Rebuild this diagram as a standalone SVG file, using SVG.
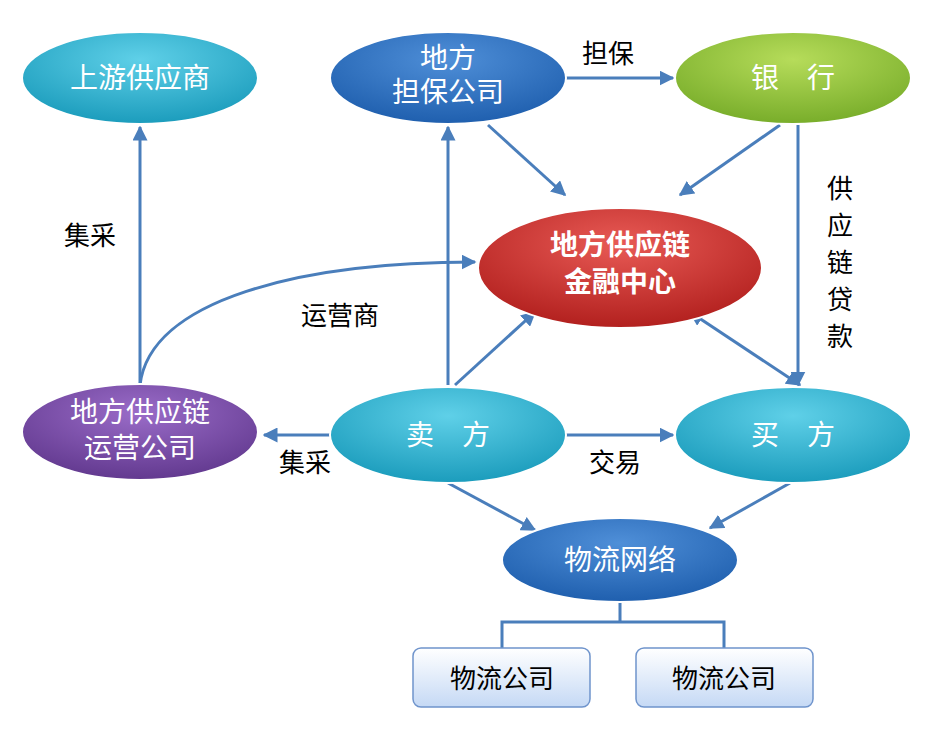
<svg xmlns="http://www.w3.org/2000/svg" width="941" height="735" viewBox="0 0 941 735">
<defs>
<radialGradient id="gT" cx="50%" cy="30%" r="70%"><stop offset="0" stop-color="#5fd0e8"/><stop offset="1" stop-color="#1b9cbc"/></radialGradient>
<radialGradient id="gB" cx="50%" cy="30%" r="70%"><stop offset="0" stop-color="#4f8fd8"/><stop offset="1" stop-color="#1f5fae"/></radialGradient>
<radialGradient id="gG" cx="50%" cy="30%" r="70%"><stop offset="0" stop-color="#b6dc5a"/><stop offset="1" stop-color="#78ad2a"/></radialGradient>
<radialGradient id="gR" cx="50%" cy="30%" r="70%"><stop offset="0" stop-color="#e85a55"/><stop offset="1" stop-color="#b2201e"/></radialGradient>
<radialGradient id="gP" cx="50%" cy="30%" r="70%"><stop offset="0" stop-color="#9a6cc8"/><stop offset="1" stop-color="#62398f"/></radialGradient>
<linearGradient id="gBox" x1="0" y1="0" x2="0" y2="1"><stop offset="0" stop-color="#ffffff"/><stop offset="1" stop-color="#c5d9f5"/></linearGradient>
<marker id="ar" viewBox="0 0 10 10" refX="9" refY="5" markerWidth="5" markerHeight="5" orient="auto-start-reverse"><path d="M0,0 L10,5 L0,10 z" fill="#4a7ebb"/></marker>
<style>
.c{stroke:#4a7ebb;stroke-width:3;fill:none;marker-end:url(#ar)}
.t{font-family:"Liberation Sans","Noto Sans CJK SC",sans-serif;font-size:28px;fill:#fff;text-anchor:middle}
.l{font-family:"Liberation Sans","Noto Sans CJK SC",sans-serif;font-size:26px;fill:#000;text-anchor:middle}
.e{stroke:#fff;stroke-width:2}
</style>
</defs>
<g id="connectors">
<line class="c" x1="140" y1="383" x2="140" y2="127"/>
<path class="c" d="M140,385 C150,300 300,262 475,262"/>
<line class="c" x1="565" y1="78" x2="673" y2="78"/>
<line class="c" x1="488" y1="125" x2="565" y2="195"/>
<line class="c" x1="780" y1="125" x2="680" y2="195"/>
<line class="c" x1="798" y1="125" x2="798" y2="385"/>
<line class="c" x1="448" y1="385" x2="448" y2="127"/>
<line class="c" x1="455" y1="385" x2="535" y2="312"/>
<line class="c" x1="800" y1="385" x2="690" y2="312" style="marker-start:url(#ar)"/>
<line class="c" x1="330" y1="435" x2="264" y2="435"/>
<line class="c" x1="565" y1="435" x2="673" y2="435"/>
<line class="c" x1="448" y1="483" x2="535" y2="530"/>
<line class="c" x1="790" y1="483" x2="710" y2="528"/>
<path d="M620,602 V622 M502,648 V622 H724 V648" stroke="#4a7ebb" stroke-width="3" fill="none"/>
<text class="l" x="90" y="245">集采</text>
<text class="l" x="340" y="325">运营商</text>
<text class="l" x="608" y="63">担保</text>
<text class="l" x="305" y="472">集采</text>
<text class="l" x="615" y="472">交易</text>
<text class="l" x="840" y="198">供</text>
<text class="l" x="840" y="235">应</text>
<text class="l" x="840" y="272">链</text>
<text class="l" x="840" y="309">贷</text>
<text class="l" x="840" y="346">款</text>
</g>
<g id="n1"><ellipse class="e" cx="140" cy="78" rx="118" ry="46" fill="url(#gT)"/><text class="t" x="140" y="88">上游供应商</text></g>
<g id="n2"><ellipse class="e" cx="448" cy="78" rx="118" ry="46" fill="url(#gB)"/><text class="t" x="448" y="68">地方</text><text class="t" x="448" y="102">担保公司</text></g>
<g id="n3"><ellipse class="e" cx="793" cy="78" rx="118" ry="46" fill="url(#gG)"/><text class="t" x="793" y="88">银　行</text></g>
<g id="n4"><ellipse class="e" cx="620" cy="268" rx="142" ry="60" fill="url(#gR)"/><text class="t" x="620" y="255" font-weight="bold">地方供应链</text><text class="t" x="620" y="292" font-weight="bold">金融中心</text></g>
<g id="n5"><ellipse class="e" cx="140" cy="432" rx="118" ry="48" fill="url(#gP)"/><text class="t" x="140" y="422">地方供应链</text><text class="t" x="140" y="458">运营公司</text></g>
<g id="n6"><ellipse class="e" cx="448" cy="435" rx="118" ry="48" fill="url(#gT)"/><text class="t" x="448" y="445">卖　方</text></g>
<g id="n7"><ellipse class="e" cx="793" cy="435" rx="118" ry="48" fill="url(#gT)"/><text class="t" x="793" y="445">买　方</text></g>
<g id="n8"><ellipse class="e" cx="620" cy="560" rx="118" ry="42" fill="url(#gB)"/><text class="t" x="620" y="570">物流网络</text></g>
<g id="n9"><rect x="413" y="648" width="177" height="59" rx="8" fill="url(#gBox)" stroke="#6f94cc" stroke-width="1.5"/><text class="l" x="502" y="688" font-size="28">物流公司</text></g>
<g id="n10"><rect x="636" y="648" width="177" height="59" rx="8" fill="url(#gBox)" stroke="#6f94cc" stroke-width="1.5"/><text class="l" x="724" y="688" font-size="28">物流公司</text></g>
</svg>
